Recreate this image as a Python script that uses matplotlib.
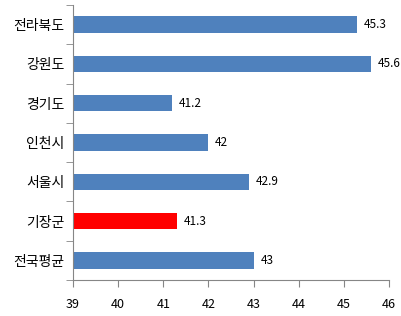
import matplotlib.pyplot as plt

plt.rcParams['font.family'] = ['Noto Sans CJK KR', 'DejaVu Sans']

regions = ['전라북도', '강원도', '경기도', '인천시', '서울시', '기장군', '전국평균']
values = [45.3, 45.6, 41.2, 42, 42.9, 41.3, 43]
labels = ['45.3', '45.6', '41.2', '42', '42.9', '41.3', '43']
colors = ['#4F81BD'] * 5 + ['#FF0000', '#4F81BD']

fig = plt.figure(figsize=(4.01, 3.16), dpi=100)
ax = fig.add_axes([0.182, 0.114, 0.788, 0.870])

pos = list(range(len(regions)))[::-1]
ax.barh(pos, [v - 39 for v in values], left=39, height=0.42, color=colors)
for p, v, t in zip(pos, values, labels):
    ax.text(v + 0.15, p, t, va='center', ha='left', fontsize=8.5)

ax.set_xlim(39, 46)
ax.set_ylim(-0.5, len(regions) - 0.5)
ax.set_xticks(range(39, 47))
ax.set_yticks(pos)
ax.set_yticklabels(regions, fontsize=10)
ax.set_yticks([p - 0.5 for p in range(len(regions) + 1)], minor=True)
ax.tick_params(axis='y', which='major', length=0, pad=6)
ax.tick_params(axis='y', which='minor', length=5, color='#868686')
ax.tick_params(axis='x', length=5, color='#868686', labelsize=9, pad=8)

for s in ['top', 'right']:
    ax.spines[s].set_visible(False)
for s in ['left', 'bottom']:
    ax.spines[s].set_color('#868686')

plt.savefig('out.png', dpi=100)
